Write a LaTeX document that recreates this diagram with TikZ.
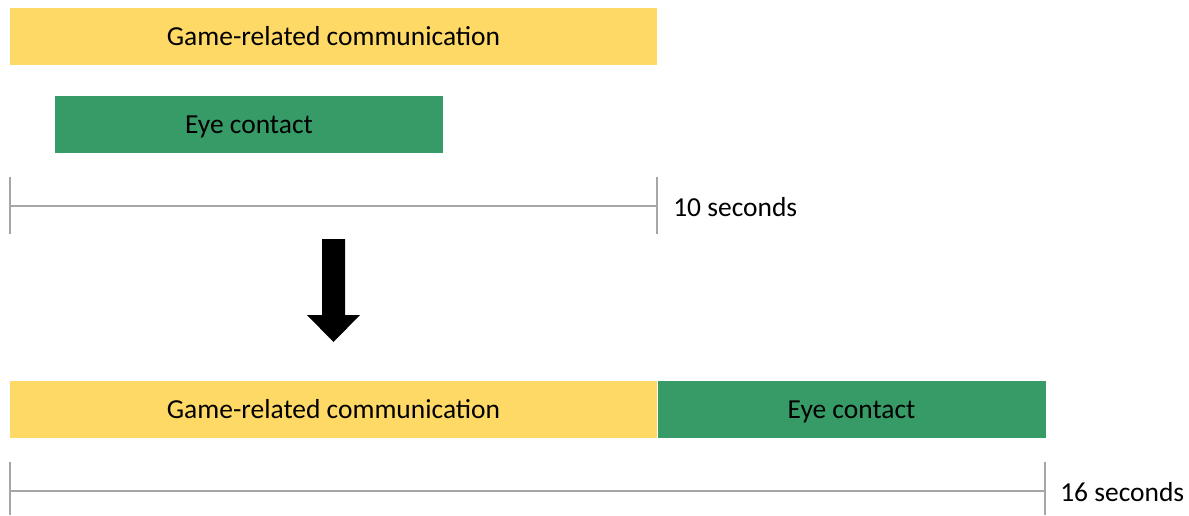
\documentclass[tikz,border=0pt]{standalone}
\usepackage{fontspec}
\setmainfont{Carlito}
\usetikzlibrary{positioning}
\definecolor{gamecol}{HTML}{FFD966}
\definecolor{eyecol}{HTML}{379B68}
\definecolor{axiscol}{HTML}{A6A6A6}

\begin{document}
\begin{tikzpicture}[x=0.75pt,y=-0.75pt,font=\fontsize{20.6}{24}\selectfont,
	bar/.style={rectangle,inner sep=0pt,minimum height=57*0.75pt,text height=17.5pt,text depth=4.2pt},
	axis/.style={draw=axiscol,line width=1pt}]
	\useasboundingbox (0,0) rectangle (1189,515);

	% before
	\node[bar,fill=gamecol,minimum width=647*0.75pt] (GameA) at (333.5,36.5) {Game-related communication};
	\node[bar,fill=eyecol,minimum width=388*0.75pt] (EyeA) at (249,124.5) {Eye contact};

	\coordinate (A0) at (10,206);
	\coordinate (A1) at (657,206);
	\draw[axis] (A0) -- (A1);
	\draw[axis] ([yshift=22pt]A0) -- ([yshift=-21pt]A0);
	\draw[axis] ([yshift=22pt]A1) -- ([yshift=-21pt]A1);
	\node[anchor=west,inner sep=0pt] (SecA) at (673,207) {10 seconds};

	% arrow
	\fill (322,239) -- (345,239) -- (345,315) -- (360,315) -- (333.5,342)
		-- (307,315) -- (322,315) -- cycle;

	% after
	\node[bar,fill=gamecol,minimum width=647*0.75pt] (GameB) at (333.5,409.5) {Game-related communication};
	\node[bar,fill=eyecol,minimum width=388*0.75pt,right=0pt of GameB] (EyeB) {Eye contact};

	\coordinate (B0) at (10,491);
	\coordinate (B1) at (1045,491);
	\draw[axis] (B0) -- (B1);
	\draw[axis] ([yshift=22pt]B0) -- ([yshift=-18pt]B0);
	\draw[axis] ([yshift=22pt]B1) -- ([yshift=-18pt]B1);
	\node[anchor=west,inner sep=0pt] (SecB) at (1060,492) {16 seconds};
\end{tikzpicture}
\end{document}
